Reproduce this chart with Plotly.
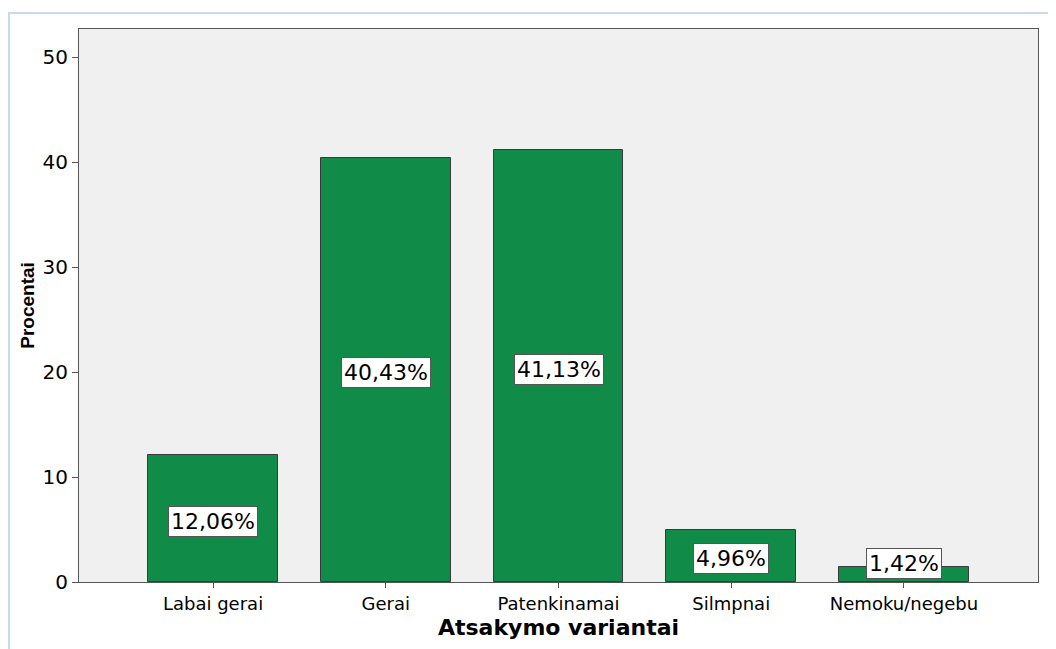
import plotly.graph_objects as go

categories = ["Labai gerai", "Gerai", "Patenkinamai", "Silmpnai", "Nemoku/negebu"]
values = [12.06, 40.43, 41.13, 4.96, 1.42]
labels = ["12,06%", "40,43%", "41,13%", "4,96%", "1,42%"]
y_ticks = [0, 10, 20, 30, 40, 50]

W, H = 1048, 641
L, R, T, B = 71, 18, 21, 67
pw, ph = W - L - R, H - T - B

fig = go.Figure()
fig.add_trace(go.Bar(
    x=list(range(len(categories))), y=values, width=0.75,
    marker=dict(color="#118C48", line=dict(color="#3a3a3a", width=1)),
    hoverinfo="skip", showlegend=False,
))

for i, (v, lab) in enumerate(zip(values, labels)):
    fig.add_annotation(
        x=i, y=v / 2, text=lab, showarrow=False, xref="x", yref="y",
        yshift=(14.5 if v < 3 else 0) - 3,
        font=dict(family="DejaVu Sans", size=22, color="#000"),
        bgcolor="#ffffff", bordercolor="#555555", borderwidth=1, borderpad=2,
    )

# outer light-blue frame
fig.add_shape(type="rect", xref="paper", yref="paper",
              x0=(1 - L) / pw, x1=(W + 20 - L) / pw,
              y0=-(H + 20 - T - ph) / ph, y1=1 + (T - 5) / ph,
              line=dict(color="#C6D9F0", width=2), layer="below")

fig.update_layout(
    width=W, height=H,
    margin=dict(l=L, r=R, t=T, b=B, autoexpand=False),
    paper_bgcolor="#ffffff", plot_bgcolor="#F0F0F0",
    font=dict(family="DejaVu Sans", color="#000"),
    bargap=0,
)
fig.update_xaxes(
    range=[-0.776, 4.776], tickmode="array",
    tickvals=list(range(len(categories))), ticktext=categories,
    ticks="outside", ticklen=5, tickcolor="#555", tickfont=dict(size=18),
    showline=True, linecolor="#555", linewidth=1, mirror=True,
    showgrid=False, zeroline=False,
    title=dict(text="<b>Atsakymo variantai</b>", font=dict(size=22), standoff=7),
    automargin=False,
)
fig.update_yaxes(
    range=[0, 52.67], tickvals=y_ticks,
    ticks="outside", ticklen=6, tickcolor="#555", tickfont=dict(size=20),
    showline=True, linecolor="#555", linewidth=1, mirror=True,
    showgrid=False, zeroline=False,
    title=dict(text="<b>Procentai</b>",
               font=dict(size=19, family="Liberation Sans, Arial"),
               standoff=2),
    automargin=False,
)

fig.write_html("out.html")
